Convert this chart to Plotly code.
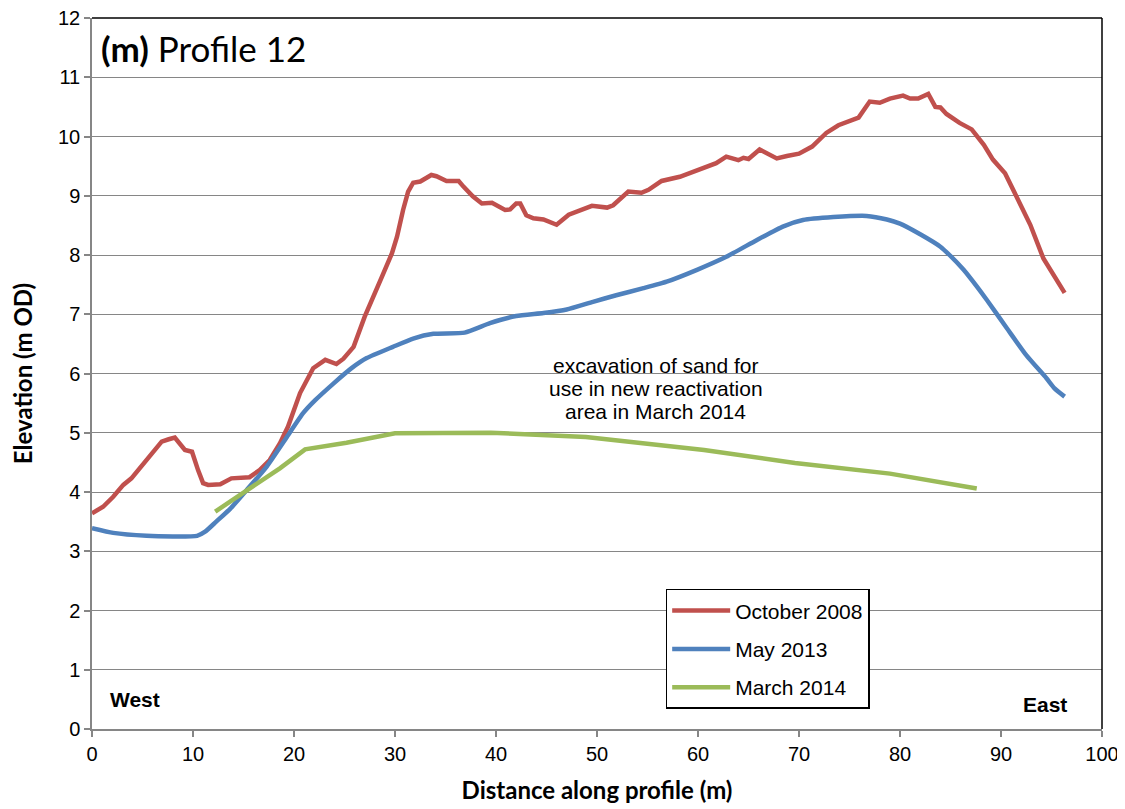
import plotly.graph_objects as go

red_x = [0, 1.1, 2.1, 3.1, 3.9, 4.9, 5.9, 6.9, 7.6, 8.2, 9.2, 9.9, 10.5, 11.0, 11.5, 12.7, 13.8, 15.6, 16.6, 17.6,
         18.6, 19.4, 20.6, 21.9, 23.1, 24.2, 24.9, 25.9, 27.0, 27.9, 28.7, 29.7, 30.2, 30.8, 31.3, 31.8, 32.5, 33.6,
         34.1, 35.1, 36.3, 36.8, 37.7, 38.6, 39.6, 40.9, 41.4, 42.0, 42.4, 43.0, 43.7, 44.7, 46.0, 47.2, 48.0, 49.5,
         51.0, 51.6, 53.1, 54.4, 55.1, 56.4, 58.2, 59.9, 61.4, 61.8, 62.8, 64.0, 64.5, 65.0, 66.1, 67.0, 67.8, 68.8,
         70.0, 71.3, 72.7, 73.9, 75.9, 77.0, 78.0, 79.0, 80.3, 81.0, 81.8, 82.8, 83.5, 84.0, 84.6, 85.9, 87.1, 88.3,
         89.2, 90.4, 91.7, 92.9, 94.2, 95.2, 96.3]
red_y = [3.64, 3.75, 3.92, 4.12, 4.23, 4.43, 4.65, 4.85, 4.89, 4.92, 4.71, 4.68, 4.37, 4.15, 4.12, 4.13, 4.23, 4.25,
         4.37, 4.54, 4.82, 5.10, 5.67, 6.09, 6.23, 6.16, 6.25, 6.45, 6.96, 7.30, 7.63, 8.03, 8.31, 8.76, 9.07, 9.22,
         9.24, 9.35, 9.33, 9.25, 9.25, 9.15, 8.99, 8.87, 8.88, 8.76, 8.77, 8.87, 8.87, 8.67, 8.62, 8.60, 8.51, 8.68,
         8.73, 8.83, 8.80, 8.84, 9.07, 9.05, 9.10, 9.25, 9.32, 9.43, 9.53, 9.55, 9.66, 9.60, 9.64, 9.62, 9.78, 9.71,
         9.63, 9.67, 9.71, 9.83, 10.06, 10.19, 10.32, 10.59, 10.57, 10.64, 10.69, 10.64, 10.64, 10.72, 10.50, 10.49,
         10.38, 10.23, 10.12, 9.86, 9.61, 9.38, 8.93, 8.51, 7.94, 7.66, 7.36]

blue_x = [0, 2.1, 5.4, 8.0, 10.4, 11.2, 12.3, 13.7, 15.3, 17.3, 19.3, 20.9, 22.1, 23.9, 25.7, 27.2, 29.8, 31.8,
          33.8, 36.9, 39.4, 42.0, 44.7, 47.0, 49.6, 51.9, 54.6, 56.9, 59.9, 62.8, 65.8, 68.4, 70.4, 73.4, 76.7,
          78.7, 80.0, 82.0, 84.0, 84.9, 86.3, 87.6, 88.6, 90.6, 92.5, 94.5, 95.3, 96.3]
blue_y = [3.39, 3.31, 3.26, 3.25, 3.26, 3.33, 3.50, 3.72, 4.03, 4.43, 4.93, 5.33, 5.55, 5.83, 6.09, 6.26, 6.45,
          6.59, 6.67, 6.69, 6.85, 6.97, 7.02, 7.08, 7.21, 7.32, 7.44, 7.55, 7.75, 7.97, 8.25, 8.48, 8.59, 8.64,
          8.66, 8.60, 8.53, 8.35, 8.14, 8.00, 7.75, 7.47, 7.24, 6.76, 6.31, 5.92, 5.75, 5.61]

green_x = [12.2, 15.3, 18.6, 21.1, 25.2, 30.0, 39.5, 48.9, 60.6, 69.6, 79.0, 87.6]
green_y = [3.67, 4.03, 4.40, 4.72, 4.83, 4.99, 5.00, 4.93, 4.71, 4.49, 4.31, 4.06]

series_names = ["October 2008", "May 2013", "March 2014"]
x_ticks = list(range(0, 101, 10))
y_ticks = list(range(0, 13))
note_lines = ["excavation of sand for", "use in new reactivation", "area in March 2014"]

fig = go.Figure()
fig.add_trace(go.Scatter(x=red_x, y=red_y, mode="lines", name=series_names[0], legendgroup="a",
                         line=dict(color="#C0504D", width=4.5)))
fig.add_trace(go.Scatter(x=blue_x, y=blue_y, mode="lines", name=series_names[1], legendgroup="b",
                         line=dict(color="#4F81BD", width=4.5, shape="spline", smoothing=0.5)))
fig.add_trace(go.Scatter(x=green_x, y=green_y, mode="lines", name=series_names[2], legendgroup="c",
                         line=dict(color="#9BBB59", width=4.5)))

axis_common = dict(showline=True, linecolor="#868686", linewidth=1.5, ticks="outside", ticklen=6,
                   tickcolor="#868686", tickwidth=1.5, tickfont=dict(family="Arial", size=20, color="black"),
                   zeroline=False, automargin=False, ticklabeloverflow="allow")
fig.update_xaxes(range=[0, 100], tickvals=x_ticks, showgrid=False,
                 title=dict(text="<b>Distance along profile (m)</b>", font=dict(family="Lato", size=24, color="black"),
                            standoff=18), **axis_common)
fig.update_yaxes(range=[0, 12], tickvals=y_ticks, showgrid=True, gridcolor="#868686", gridwidth=1.3,
                 title=dict(text="<b>Elevation (m OD)</b>", font=dict(family="Lato", size=24, color="black"),
                            standoff=20), **axis_common)

fig.add_shape(type="line", xref="paper", yref="paper", x0=0, x1=1, y0=1, y1=1, line=dict(color="black", width=1.5))
fig.add_shape(type="line", xref="paper", yref="paper", x0=1, x1=1, y0=0, y1=1, line=dict(color="black", width=1.5))

fig.add_annotation(xref="paper", yref="paper", x=0.007, y=0.958, xanchor="left", yanchor="middle",
                   text="<b>(m)</b> Profile 12", showarrow=False, font=dict(family="Lato", size=35, color="black"))
fig.add_annotation(xref="paper", yref="paper", x=0.016, y=0.042, xanchor="left", yanchor="middle",
                   text="<b>West</b>", showarrow=False, font=dict(family="Arial", size=21, color="black"))
fig.add_annotation(xref="paper", yref="paper", x=0.967, y=0.034, xanchor="right", yanchor="middle",
                   text="<b>East</b>", showarrow=False, font=dict(family="Arial", size=21, color="black"))
for i, line in enumerate(note_lines):
    fig.add_annotation(xref="x", yref="paper", x=55.8, y=(729 - (365 + 23.3 * i)) / 711,
                       xanchor="center", yanchor="middle", text=line, showarrow=False,
                       font=dict(family="Arial", size=21, color="black"))

fig.update_layout(
    width=1125, height=809,
    margin=dict(l=84, r=31, t=10, b=88),
    paper_bgcolor="white", plot_bgcolor="white",
    showlegend=True,
    legend=dict(x=0.568, y=0.197, xanchor="left", yanchor="top", bgcolor="white",
                bordercolor="black", borderwidth=1.5, font=dict(family="Arial", size=21, color="black"),
                tracegroupgap=8, itemwidth=58),
)

fig.write_html("out.html")
